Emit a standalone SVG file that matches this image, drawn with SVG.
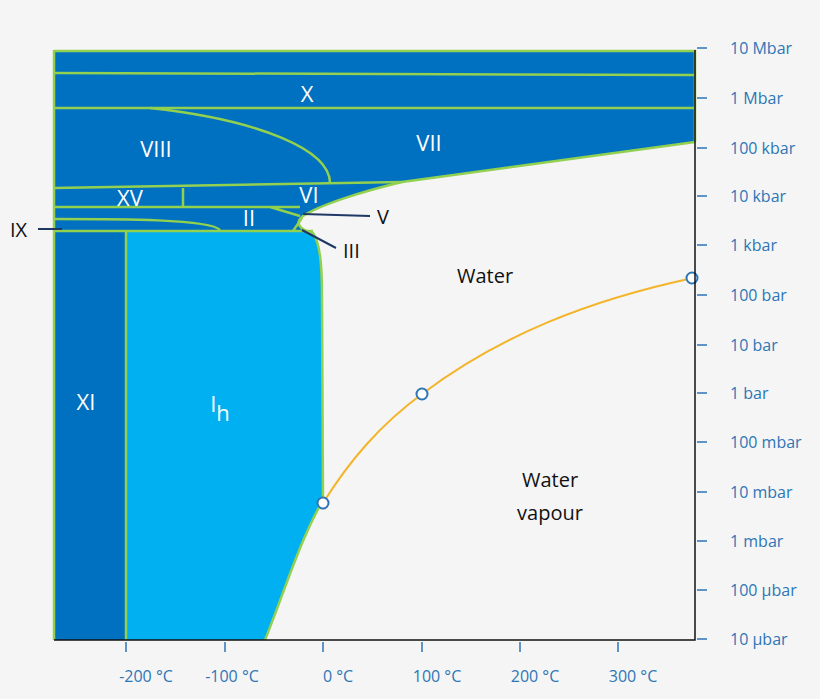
<svg xmlns="http://www.w3.org/2000/svg" width="820" height="699" viewBox="0 0 820 699">
<style>
.g{fill:none;stroke:#92d050;stroke-width:2.5}
.w{fill:#fff;font-family:"Open Sans","Liberation Sans",sans-serif;font-size:22px;text-anchor:middle}
.k{fill:#111;font-family:"Open Sans","Liberation Sans",sans-serif;font-size:20px}
.ax{fill:#2e75b6;font-family:"Open Sans","Liberation Sans",sans-serif;font-size:16px}
.t{stroke:#2e75b6;stroke-width:1.5}
.p{stroke:#1f3864;stroke-width:2}
</style>
<rect width="820" height="699" fill="#f5f5f5"/>
<g id="ice-dark"><rect x="54" y="50" width="641" height="590" fill="#0070c0"/></g>
<g id="liquid"><path d="M695,142 L402,182 C360,192 320,205 303,216 C294,223 300,230 313,233 C321,245 322,270 322,300 L323,500 C300,540 285,590 265,640 L695,640 Z" fill="#f5f5f5"/></g>
<g id="Ih"><path d="M126,232 L313,232 C321,245 322,270 322,300 L323,500 C300,540 285,590 265,640 L126,640 Z" fill="#00b0f0"/></g>
<g id="boundaries">
<path class="g" d="M54,51 H695 V142 M54,50 V640"/>
<path class="g" d="M54,73 L695,75 M54,108 H695"/>
<path class="g" d="M695,142 L402,182 C360,192 320,205 303,216 C294,223 300,230 313,233 C321,245 322,270 322,300 L323,500 C300,540 285,590 265,640"/>
<path class="g" d="M150,108 C260,120 330,150 330,183"/>
<path class="g" d="M54,188 L402,182 M183,188 V207"/>
<path class="g" d="M54,207 H270 L300,216 M270,207 L300,207"/>
<path class="g" d="M54,219 C120,219 210,219 220,230"/>
<path class="g" d="M54,231 H313 M293,231 L302,218 M126,231 V640"/>
</g>
<g id="labels">
<text class="w" x="307" y="102">X</text>
<text class="w" x="156" y="157">VIII</text>
<text class="w" x="429" y="151">VII</text>
<text class="w" x="130" y="206">XV</text>
<text class="w" x="309" y="203">VI</text>
<text class="w" x="249" y="226" font-size="18">II</text>
<text class="w" x="86" y="410" font-size="38">XI</text>
<text class="w" x="220" y="412" font-size="38">I<tspan font-size="22" dy="9">h</tspan></text>
<text class="k" x="457" y="283">Water</text>
<text class="k" x="550" y="487" text-anchor="middle">Water</text>
<text class="k" x="550" y="520" text-anchor="middle">vapour</text>
<text class="k" x="10" y="237">IX</text>
<text class="k" x="377" y="224">V</text>
<text class="k" x="343" y="258">III</text>
</g>
<g id="connectors">
<path class="p" d="M38,229 H62 M303,214 L370,216 M302,230 L336,248"/>
<path d="M323,503 C350,460 380,425 422,394 C500,335 590,300 693,278" fill="none" stroke="#f4b42a" stroke-width="2"/>
<g fill="#fff" stroke="#2e75b6" stroke-width="2"><circle cx="323" cy="503" r="5.5"/><circle cx="422" cy="394" r="5.5"/><circle cx="692" cy="278" r="5.5"/></g>
</g>
<g id="axes">
<path d="M54,640 H695 V50" fill="none" stroke="#111" stroke-width="1.5"/>
<path class="t" d="M697,48 h10 M697,98 h10 M697,148 h10 M697,196 h10 M697,245 h10 M697,295 h10 M697,345 h10 M697,393 h10 M697,442 h10 M697,492 h10 M697,541 h10 M697,590 h10 M697,639 h10 M126,642 v10 M225,642 v10 M323,642 v10 M422,642 v10 M520,642 v10 M618,642 v10"/>
<g class="ax">
<text x="730" y="54">10 Mbar</text><text x="730" y="104">1 Mbar</text><text x="730" y="154">100 kbar</text><text x="730" y="202">10 kbar</text><text x="730" y="251">1 kbar</text><text x="730" y="301">100 bar</text><text x="730" y="351">10 bar</text><text x="730" y="399">1 bar</text><text x="730" y="448">100 mbar</text><text x="730" y="498">10 mbar</text><text x="730" y="547">1 mbar</text><text x="730" y="596">100 µbar</text><text x="730" y="645">10 µbar</text>
</g>
<g class="ax" text-anchor="middle">
<text x="146" y="682">-200 °C</text><text x="232" y="682">-100 °C</text><text x="338" y="682">0 °C</text><text x="437" y="682">100 °C</text><text x="535" y="682">200 °C</text><text x="633" y="682">300 °C</text>
</g>
</g>
</svg>
